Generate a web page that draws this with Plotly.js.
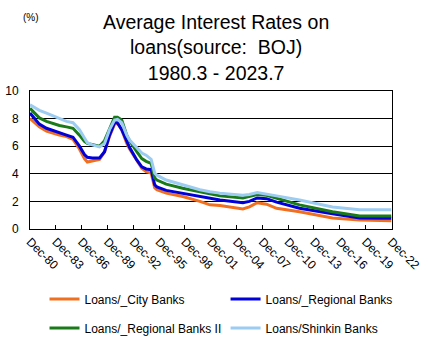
<!DOCTYPE html>
<html>
<head>
<meta charset="utf-8">
<script src="https://cdn.plot.ly/plotly-3.0.1.min.js"></script>
<style>html,body{margin:0;padding:0;background:#fff;}#chart{width:428px;height:354px;}</style>
</head>
<body>
<div id="chart"></div>
<script>
const dates = ["1980-12","1982-01","1982-11","1984-05","1985-03","1985-12","1986-09","1987-04","1987-08","1988-03","1989-01","1989-08","1990-03","1990-10","1991-02","1991-08","1992-03","1992-07","1993-05","1993-12","1994-06","1995-01","1995-06","1995-09","1996-10","1998-09","2000-09","2001-11","2003-01","2005-09","2006-06","2007-05","2008-06","2009-08","2012-04","2016-02","2019-04","2022-12"];
const cityBanks = [8.0,7.4,7.1,6.8,6.7,6.5,5.8,5.1,4.85,4.95,5.05,5.6,6.7,7.6,7.65,7.2,6.2,5.8,5.0,4.4,4.15,4.05,3.0,2.85,2.6,2.35,2.0,1.75,1.7,1.45,1.6,1.9,1.8,1.5,1.25,0.8,0.65,0.6];
const regionalBanks = [8.4,7.6,7.3,6.95,6.8,6.65,6.0,5.4,5.2,5.15,5.15,5.6,6.8,7.7,7.7,7.2,6.4,5.9,5.0,4.5,4.35,4.3,3.2,3.05,2.8,2.6,2.35,2.25,2.1,1.9,2.0,2.25,2.2,1.95,1.5,1.1,0.8,0.78];
const regionalBanks2 = [8.75,8.05,7.8,7.5,7.4,7.3,6.8,6.35,6.2,6.1,6.0,6.4,7.3,8.1,8.1,7.9,6.8,6.4,5.6,5.1,4.9,4.75,3.7,3.55,3.25,2.95,2.7,2.55,2.4,2.25,2.35,2.5,2.45,2.25,1.75,1.25,0.95,0.95];
const shinkinBanks = [9.0,8.6,8.4,8.0,7.8,7.7,7.2,6.6,6.25,6.1,5.95,6.2,7.2,7.9,7.95,7.7,6.8,6.45,5.9,5.5,5.35,5.05,4.05,3.9,3.55,3.2,2.85,2.7,2.6,2.45,2.5,2.65,2.55,2.4,2.1,1.6,1.4,1.4];
const seriesNames = ["Loans/_City Banks","Loans/_Regional Banks","Loans/_Regional Banks II","Loans/Shinkin Banks"];
const tickVals = ["1980-12-01","1983-12-01","1986-12-01","1989-12-01","1992-12-01","1995-12-01","1998-12-01","2001-12-01","2004-12-01","2007-12-01","2010-12-01","2013-12-01","2016-12-01","2019-12-01","2022-12-01"];
const tickText = ["Dec-80","Dec-83","Dec-86","Dec-89","Dec-92","Dec-95","Dec-98","Dec-01","Dec-04","Dec-07","Dec-10","Dec-13","Dec-16","Dec-19","Dec-22"];

const colors = ["#F07020","#0000D8","#1A7A1A","#9CCCF2"];
const ys = [cityBanks, regionalBanks, regionalBanks2, shinkinBanks];
const legendIds = ["legend","legend2","legend3","legend4"];
const traces = ys.map((y,i)=>({
  x: dates, y: y, name: seriesNames[i], type: "scatter", mode: "lines",
  line: {color: colors[i], width: 3}, legend: legendIds[i]
}));

const font = "Liberation Sans, Arial, sans-serif";
const legendBase = {
  orientation: "h", xref: "container", yref: "container", xanchor: "left",
  yanchor: "middle", traceorder: "normal",
  font: {family: font, size: 12, color: "#000"}, bgcolor: "rgba(0,0,0,0)"
};
const mk = (x, y) => Object.assign({}, legendBase, {x: x, y: y});
const layout = {
  width: 428, height: 354,
  margin: {l: 30, r: 36, t: 91, b: 125},
  paper_bgcolor: "#fff", plot_bgcolor: "#fff",
  font: {family: font, size: 12, color: "#000"},
  title: {text: "Average Interest Rates on<br>loans(source:  BOJ)<br>1980.3 - 2023.7",
          font: {family: font, size: 19.5, color: "#000"},
          xref: "container", yref: "container", x: 0.505, xanchor: "center", y: 0.918, yanchor: "middle"},
  xaxis: {
    type: "date", range: ["1980-12-01","2023-01-01"],
    tickvals: tickVals, ticktext: tickText, tickangle: 45,
    ticks: "inside", ticklen: 4, tickcolor: "#000",
    showline: true, linecolor: "#000", linewidth: 1, mirror: true,
    showgrid: false, zeroline: false,
    tickfont: {family: font, size: 12, color: "#000"}
  },
  yaxis: {
    range: [0, 10], dtick: 2,
    showline: true, linecolor: "#000", linewidth: 1, mirror: true,
    showgrid: true, gridcolor: "#000", gridwidth: 1, zeroline: false,
    ticks: "", ticklabelstandoff: 8,
    tickfont: {family: font, size: 12, color: "#000"}
  },
  legend: mk(0.104, 1 - 299/354),
  legend2: mk(0.527, 1 - 299/354),
  legend3: mk(0.104, 1 - 328/354),
  legend4: mk(0.527, 1 - 328/354),
  annotations: [{
    text: "(%)", xref: "paper", yref: "paper", x: -0.025, y: 1.0, yshift: 66,
    xanchor: "left", yanchor: "bottom", showarrow: false,
    font: {family: font, size: 10, color: "#000"}
  }],
  showlegend: true
};
Plotly.newPlot("chart", traces, layout, {displayModeBar: false, staticPlot: true});
</script>
</body>
</html>
